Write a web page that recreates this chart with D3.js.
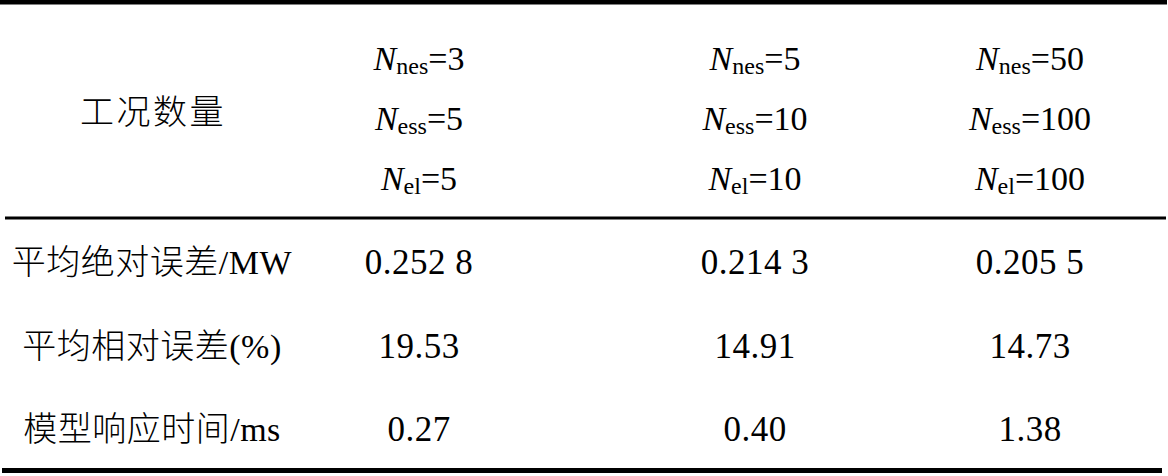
<!DOCTYPE html>
<html>
<head>
<meta charset="utf-8">
<script src="https://cdn.jsdelivr.net/npm/d3@7"></script>
<style>
html,body{margin:0;padding:0;background:#fff;}
svg{display:block;}
svg text{font-family:"Liberation Serif","Noto Sans CJK SC",serif;}
</style>
</head>
<body>
<svg id="chart" width="1168" height="476"></svg>
<script>
// ---- data ----
const headerLabel = "工况数量";
const paramNames = ["nes", "ess", "el"];
const nNes = [3, 5, 50];
const nEss = [5, 10, 100];
const nEl = [5, 10, 100];
const rowLabels = ["平均绝对误差/MW", "平均相对误差(%)", "模型响应时间/ms"];
const maeValues = ["0.252 8", "0.214 3", "0.205 5"];
const mreValues = ["19.53", "14.91", "14.73"];
const timeValues = ["0.27", "0.40", "1.38"];

// ---- layout ----
const svg = d3.select("#chart");
const FS = 34;

const colKeys = ["label", "c0", "c1", "c2"];
const x = d3.scaleOrdinal().domain(colKeys).range([152, 419, 755, 1030]);
const yHead = d3.scalePoint().domain(paramNames).range([70, 190]);
const yRow = d3.scalePoint().domain(rowLabels).range([274, 441]);

// rules
const rules = [
  {x1: 0, x2: 1167, y: 2.3, w: 4.6},
  {x1: 5, x2: 1166, y: 218, w: 3},
  {x1: 2, x2: 1162, y: 470.5, w: 5}
];
svg.selectAll("line.rule").data(rules).join("line")
  .attr("class", "rule")
  .attr("x1", d => d.x1).attr("x2", d => d.x2)
  .attr("y1", d => d.y).attr("y2", d => d.y)
  .attr("stroke", "#000").attr("stroke-width", d => d.w);

// header label
svg.append("text")
  .attr("x", x("label") + 1).attr("y", 124)
  .attr("text-anchor", "middle")
  .style("font-size", FS + "px")
  .style("font-weight", 300)
  .attr("letter-spacing", 2.5)
  .text(headerLabel);

// header parameter lines
const headerData = [];
[nNes, nEss, nEl].forEach((arr, i) => {
  arr.forEach((v, j) => headerData.push({p: paramNames[i], col: colKeys[j + 1], v}));
});
const ht = svg.selectAll("text.head").data(headerData).join("text")
  .attr("class", "head")
  .attr("x", d => x(d.col)).attr("y", d => yHead(d.p))
  .attr("text-anchor", "middle")
  .style("font-size", FS + "px");
ht.append("tspan").style("font-style", "italic").text("N");
ht.append("tspan").style("font-size", "24px").attr("dy", 4).text(d => d.p);
ht.append("tspan").attr("dy", -4).text(d => "=" + d.v);

// row labels
svg.selectAll("text.rowlab").data(rowLabels).join("text")
  .attr("class", "rowlab")
  .attr("x", x("label")).attr("y", d => yRow(d))
  .attr("text-anchor", "middle")
  .style("font-size", FS + "px")
  .style("font-weight", 300)
  .attr("letter-spacing", 0.5)
  .text(d => d);

// values
const valueRows = [maeValues, mreValues, timeValues];
const cells = [];
valueRows.forEach((arr, i) => arr.forEach((v, j) => cells.push({row: rowLabels[i], col: colKeys[j + 1], v})));
svg.selectAll("text.val").data(cells).join("text")
  .attr("class", "val")
  .attr("x", d => x(d.col)).attr("y", d => yRow(d.row))
  .attr("text-anchor", "middle")
  .style("font-size", (FS + 1) + "px")
  .attr("letter-spacing", 0.5)
  .text(d => d.v);
</script>
</body>
</html>
